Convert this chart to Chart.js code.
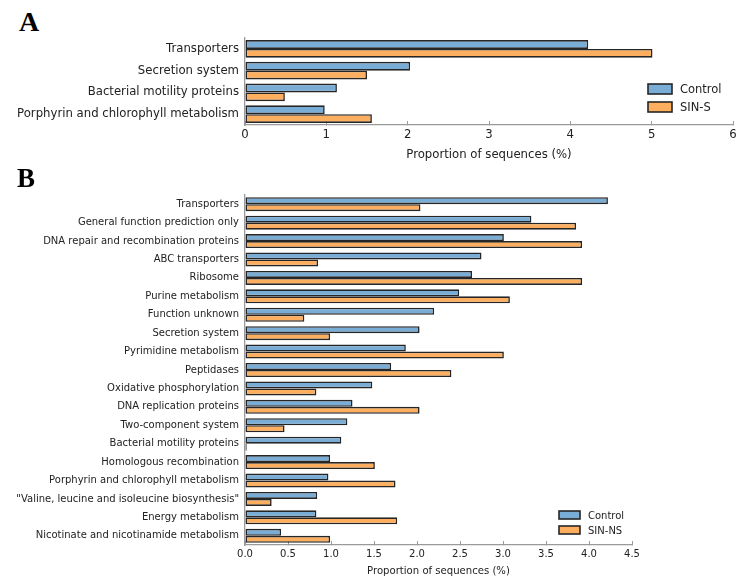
<!DOCTYPE html>
<html>
<head>
<meta charset="utf-8">
<script src="https://cdn.jsdelivr.net/npm/chart.js@4.4.1/dist/chart.umd.min.js"></script>
<style>
  body { margin: 0; background: #fff; }
  #page { position: relative; width: 751px; height: 585px; overflow: hidden; }
  canvas { position: absolute; left: 0; }
  .panel { position: absolute; font-family: "Liberation Serif", "Times New Roman", serif; font-weight: bold; line-height: 1; color: #000; }
</style>
</head>
<body>
<div id="page">
  <div class="panel" style="left:19px;top:8px;font-size:28px;">A</div>
  <canvas id="chartA" width="751" height="170" style="top:0"></canvas>
  <div class="panel" style="left:17px;top:165px;font-size:27px;">B</div>
  <canvas id="chartB" width="751" height="410" style="top:175px"></canvas>
</div>
<script>
// panel A
const categoriesA = ['Transporters', 'Secretion system', 'Bacterial motility proteins', 'Porphyrin and chlorophyll metabolism'];
const controlA = [4.22, 2.03, 1.13, 0.98];
const sinS = [5.01, 1.50, 0.49, 1.56];
const tickLabelsA = ['0', '1', '2', '3', '4', '5', '6'];

// panel B
const categoriesB = ['Transporters', 'General function prediction only', 'DNA repair and recombination proteins',
  'ABC transporters', 'Ribosome', 'Purine metabolism', 'Function unknown', 'Secretion system',
  'Pyrimidine metabolism', 'Peptidases', 'Oxidative phosphorylation', 'DNA replication proteins',
  'Two-component system', 'Bacterial motility proteins', 'Homologous recombination',
  'Porphyrin and chlorophyll metabolism', '"Valine, leucine and isoleucine biosynthesis"',
  'Energy metabolism', 'Nicotinate and nicotinamide metabolism'];
const controlB = [4.22, 3.33, 3.01, 2.75, 2.64, 2.49, 2.20, 2.03, 1.87, 1.70, 1.48, 1.25, 1.19, 1.12, 0.99, 0.97, 0.84, 0.83, 0.42];
const sinNS = [2.04, 3.85, 3.92, 0.85, 3.92, 3.08, 0.69, 0.99, 3.01, 2.40, 0.83, 2.03, 0.46, 0.02, 1.51, 1.75, 0.31, 1.77, 0.99];
const tickLabelsB = ['0.0', '0.5', '1.0', '1.5', '2.0', '2.5', '3.0', '3.5', '4.0', '4.5'];

const BLUE = '#79add5';
const ORANGE = '#fdae5e';
const EDGE = '#262626';
const SPINE = '#9a9a9a';
const FONT = 'DejaVu Sans';

// simple box legend, drawn where the original one sits
const boxLegend = {
  id: 'boxLegend',
  afterDraw(chart, args, o) {
    const ctx = chart.ctx;
    ctx.save();
    ctx.font = o.size + 'px "' + FONT + '"';
    ctx.textBaseline = 'middle';
    ctx.textAlign = 'left';
    chart.data.datasets.forEach((ds, i) => {
      const cy = o.y + i * o.gap;
      ctx.fillStyle = ds.backgroundColor;
      ctx.fillRect(o.x, cy - o.h / 2, o.w, o.h);
      ctx.lineWidth = 1.6;
      ctx.strokeStyle = EDGE;
      ctx.strokeRect(o.x, cy - o.h / 2, o.w, o.h);
      ctx.fillStyle = '#222';
      ctx.fillText(ds.label, o.x + o.w + 8, cy + 1);
    });
    ctx.restore();
  }
};

function makeChart(id, cats, a, b, bName, cfg) {
  return new Chart(document.getElementById(id), {
    type: 'bar',
    plugins: [boxLegend],
    data: {
      labels: cats,
      datasets: [
        { label: 'Control', data: a, backgroundColor: BLUE, borderColor: EDGE, borderWidth: 1.6, borderSkipped: false },
        { label: bName, data: b, backgroundColor: ORANGE, borderColor: EDGE, borderWidth: 1.6, borderSkipped: false }
      ]
    },
    options: {
      indexAxis: 'y',
      responsive: false,
      animation: false,
      devicePixelRatio: 1,
      layout: { padding: { top: cfg.top, right: cfg.right, bottom: 0, left: 0 } },
      datasets: { bar: { categoryPercentage: cfg.catPct, barPercentage: 1.0 } },
      scales: {
        y: {
          grid: { display: false, drawTicks: false },
          border: { display: true, color: SPINE, width: 1.3 },
          ticks: { color: '#222', padding: 6, font: { family: FONT, size: cfg.font } },
          afterFit: s => { s.width = 245; }
        },
        x: {
          min: 0, max: cfg.max,
          grid: { drawOnChartArea: false, drawTicks: true, tickLength: -4, color: SPINE, lineWidth: 1 },
          border: { display: true, color: SPINE, width: 1.3 },
          ticks: { stepSize: cfg.step, color: '#222', padding: 7, font: { family: FONT, size: cfg.font },
                   callback: (v, i) => cfg.ticks[i] },
          title: { display: true, text: 'Proportion of sequences (%)', color: '#222',
                   font: { family: FONT, size: cfg.titleSize }, padding: { top: 0, bottom: 8 } },
          afterFit: s => { s.height = cfg.xh; }
        }
      },
      plugins: {
        legend: { display: false },
        tooltip: { enabled: false },
        boxLegend: cfg.legend
      }
    }
  });
}

makeChart('chartA', categoriesA, controlA, sinS, 'SIN-S', {
  top: 38, right: 18, max: 6, step: 1, ticks: tickLabelsA, font: 11.7, titleSize: 11.7,
  catPct: 0.81, xh: 45,
  legend: { x: 648, y: 89, gap: 18, w: 24, h: 10, size: 11.5 }
});

makeChart('chartB', categoriesB, controlB, sinNS, 'SIN-NS', {
  top: 20, right: 119, max: 4.5, step: 0.5, ticks: tickLabelsB, font: 10, titleSize: 10.1,
  catPct: 0.76, xh: 40,
  legend: { x: 559, y: 340, gap: 15, w: 21, h: 8, size: 10 }
});
</script>
</body>
</html>
